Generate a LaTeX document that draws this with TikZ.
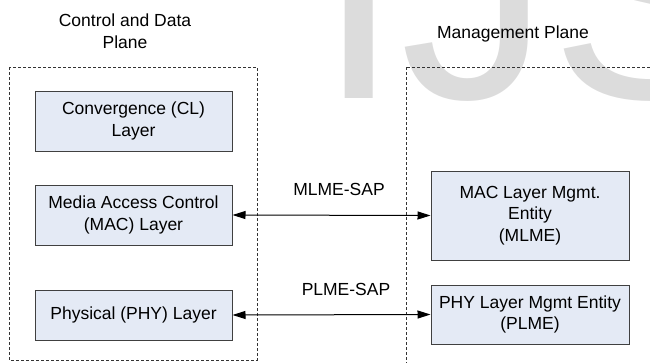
\documentclass[tikz,border=0pt]{standalone}
\usepackage{fontspec}
\setmainfont{Liberation Sans}
\usetikzlibrary{arrows.meta}
\definecolor{boxfill}{HTML}{E4EAF5}
\definecolor{boxline}{HTML}{404040}
\definecolor{wmark}{HTML}{DCDCDC}
\tikzset{
  layerbox/.style={draw=boxline, line width=1pt, fill=boxfill, align=center,
    minimum width=197pt, inner sep=0pt, font=\fontsize{17.5}{21.5}\selectfont},
  planebox/.style={draw=black!80, line width=0.8pt, dash pattern=on 3pt off 2pt},
  sapline/.style={line width=1pt, {Triangle[length=13pt,width=8pt]}-{Triangle[length=13pt,width=8pt]}, shorten <=0pt, shorten >=0pt},
  lbl/.style={inner sep=0pt, align=center, font=\fontsize{17.5}{21.5}\selectfont}
}
\begin{document}
\begin{tikzpicture}[x=1pt,y=-1pt]
\useasboundingbox (0,0) rectangle (650,362);
% watermark
\begin{scope}
\clip (0,0) rectangle (650,362);
\node[anchor=base west, inner sep=0pt, text=wmark, font=\fontsize{300}{300}\selectfont] (wm) at (317,98) {IJSER};
\draw[planebox] (406,67) rectangle (700,420);
\end{scope}
% plane boxes
\draw[planebox] (9,67) rectangle (257,360);
% titles
\node[lbl] (t1) at (125,31) {Control and Data\\Plane};
\node[lbl] (t2) at (513,34) {Management Plane};
% layer boxes
\node[layerbox, minimum height=60pt] (cl) at (133.5,121) {Convergence (CL)\\Layer};
\node[layerbox, minimum height=60pt] (mac) at (133.5,215) {Media Access Control\\(MAC) Layer};
\node[layerbox, minimum height=50pt] (phy) at (133.5,315) {Physical (PHY) Layer};
\node[layerbox, minimum width=198pt, minimum height=89pt] (mlme) at (530,215.5) {MAC Layer Mgmt.\\Entity\\(MLME)};
\node[layerbox, minimum width=198pt, minimum height=59pt] (plme) at (530,314.5) {PHY Layer Mgmt Entity\\(PLME)};
% arrows
\draw[sapline] (mac.east) -- (mlme.west);
\draw[sapline] (phy.east) -- (plme.west);
% labels
\node[lbl] (l1) at (339,189) {MLME-SAP};
\node[lbl] (l2) at (346,289) {PLME-SAP};
\end{tikzpicture}
\end{document}
